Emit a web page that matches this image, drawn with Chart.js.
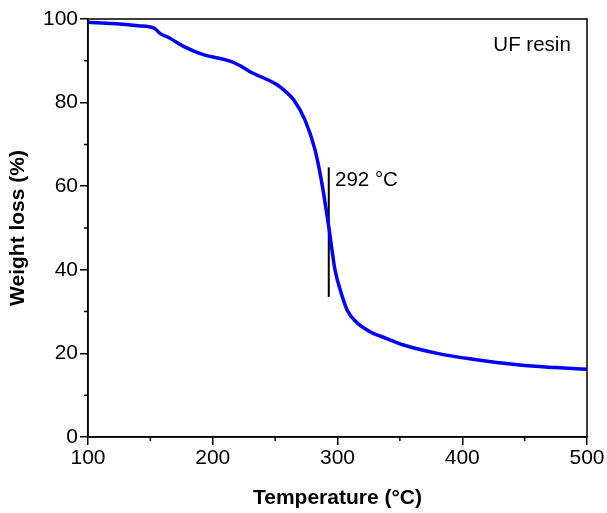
<!DOCTYPE html>
<html>
<head>
<meta charset="utf-8">
<script src="https://cdn.jsdelivr.net/npm/chart.js@4"></script>
<style>
  html, body { margin: 0; padding: 0; background: #fff; }
  #wrap { width: 607px; height: 513px; }
</style>
</head>
<body>
<div id="wrap"><canvas id="tga"></canvas></div>
<script>
// TGA curve
const temperature = [100, 120, 140, 153, 158, 165, 177, 193, 205, 215, 222, 231, 240, 251, 259, 265, 274, 282, 287, 293, 298, 303, 308, 315, 326, 340, 353, 380, 406, 446, 475, 500];
const weight = [99.2, 98.9, 98.4, 97.8, 96.5, 95.5, 93.4, 91.4, 90.6, 89.8, 88.8, 87.2, 86.0, 84.4, 82.5, 80.6, 75.8, 68.7, 61.5, 50.3, 40.0, 34.4, 30.2, 27.5, 25.2, 23.5, 22.0, 20.0, 18.7, 17.2, 16.6, 16.2];

// marker line at the inflection point
const markerT = [293, 293];
const markerW = [33.5, 64.5];
const markerLabel = "292 °C";
const markerLabelAt = [298, 61.5];

const sampleLabel = "UF resin";
const sampleLabelAt = [487, 93.8];

const xMinor = [150, 250, 350, 450];
const yMinor = [10, 30, 50, 70, 90];

const FONT = "'Liberation Sans', Arial, sans-serif";

// box around the plot, minor ticks and the text notes
const extras = {
  id: "extras",
  afterDraw(chart) {
    const { ctx, chartArea: a, scales: { x, y } } = chart;
    ctx.save();
    ctx.strokeStyle = "#000";
    ctx.lineWidth = 1.5;
    ctx.strokeRect(a.left, a.top, a.right - a.left, a.bottom - a.top);

    ctx.beginPath();
    for (const v of xMinor) {
      const px = x.getPixelForValue(v);
      ctx.moveTo(px, a.bottom);
      ctx.lineTo(px, a.bottom + 4);
    }
    for (const v of yMinor) {
      const py = y.getPixelForValue(v);
      ctx.moveTo(a.left, py);
      ctx.lineTo(a.left - 4, py);
    }
    ctx.stroke();

    ctx.fillStyle = "#000";
    ctx.font = "20.5px " + FONT;
    ctx.textBaseline = "middle";
    ctx.textAlign = "left";
    ctx.fillText(markerLabel, x.getPixelForValue(markerLabelAt[0]), y.getPixelForValue(markerLabelAt[1]));
    ctx.textAlign = "right";
    ctx.fillText(sampleLabel, x.getPixelForValue(sampleLabelAt[0]), y.getPixelForValue(sampleLabelAt[1]));
    ctx.restore();
  },
};

new Chart(document.getElementById("tga"), {
  type: "line",
  data: {
    datasets: [
      {
        data: temperature.map((t, i) => ({ x: t, y: weight[i] })),
        borderColor: "#0000ff",
        borderWidth: 3.5,
        pointRadius: 0,
        cubicInterpolationMode: "monotone",
        fill: false,
      },
      {
        data: markerT.map((t, i) => ({ x: t, y: markerW[i] })),
        borderColor: "#000",
        borderWidth: 2,
        pointRadius: 0,
        fill: false,
      },
    ],
  },
  options: {
    responsive: true,
    maintainAspectRatio: false,
    animation: false,
    layout: { padding: { top: 19, right: 20, left: 0, bottom: 0 } },
    plugins: { legend: { display: false }, tooltip: { enabled: false } },
    scales: {
      x: {
        type: "linear",
        min: 100,
        max: 500,
        ticks: { stepSize: 100, color: "#000", font: { family: FONT, size: 21 }, padding: 1, maxRotation: 0 },
        grid: { drawOnChartArea: false, tickLength: 8, color: "#000", lineWidth: 1.5 },
        border: { color: "#000", width: 1.5 },
        title: {
          display: true,
          text: "Temperature (°C)",
          color: "#000",
          font: { family: FONT, size: 21, weight: "bold" },
          padding: { top: 0, bottom: 2 },
        },
        afterFit(s) { s.height = 76; },
      },
      y: {
        min: 0,
        max: 100,
        ticks: { stepSize: 20, color: "#000", font: { family: FONT, size: 21 }, padding: 2 },
        grid: { drawOnChartArea: false, tickLength: 8, color: "#000", lineWidth: 1.5 },
        border: { color: "#000", width: 1.5 },
        title: {
          display: true,
          text: "Weight loss (%)",
          color: "#000",
          font: { family: FONT, size: 21, weight: "bold" },
          padding: { top: 6, bottom: 0 },
        },
        afterFit(s) { s.width = 88; },
      },
    },
  },
  plugins: [extras],
});
</script>
</body>
</html>
